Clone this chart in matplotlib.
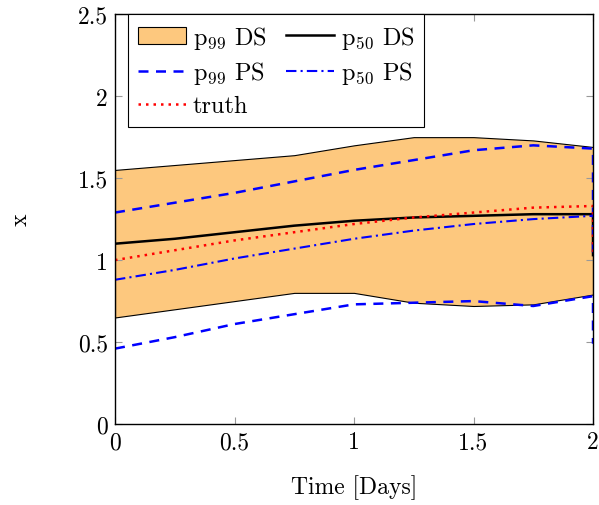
import numpy as np
import matplotlib
matplotlib.use('Agg')
import matplotlib.pyplot as plt

plt.rcParams['font.family'] = 'serif'
plt.rcParams['font.serif'] = ['cmr10']
plt.rcParams['mathtext.fontset'] = 'cm'
plt.rcParams['axes.formatter.use_mathtext'] = True

# data (last point repeated at t=2 where curves drop)
t = [0, 0.25, 0.5, 0.75, 1.0, 1.25, 1.5, 1.75, 2.0, 2.0]
p99_ds_hi = [1.55, 1.58, 1.61, 1.64, 1.70, 1.75, 1.75, 1.73, 1.69, 1.69]
p99_ds_lo = [0.65, 0.70, 0.75, 0.80, 0.80, 0.74, 0.72, 0.73, 0.79, 0.79]
p50_ds = [1.10, 1.13, 1.17, 1.21, 1.24, 1.26, 1.27, 1.28, 1.28, 1.03]
p99_ps_hi = [1.29, 1.35, 1.41, 1.48, 1.55, 1.61, 1.67, 1.70, 1.68, 1.03]
p99_ps_lo = [0.46, 0.53, 0.61, 0.67, 0.73, 0.74, 0.75, 0.72, 0.78, 0.49]
p50_ps = [0.88, 0.94, 1.01, 1.07, 1.13, 1.18, 1.22, 1.25, 1.27, 1.27]
truth = [1.00, 1.06, 1.12, 1.17, 1.22, 1.26, 1.29, 1.32, 1.33, 1.03]

fig = plt.figure(figsize=(5.99, 5.06), dpi=100)
ax = fig.add_axes([0.192, 0.160, 0.798, 0.810])

h1 = ax.fill_between(t, p99_ds_lo, p99_ds_hi, facecolor='#fdc87e',
                     edgecolor='black', linewidth=0.8, label=r'p$_{99}$ DS')
h2, = ax.plot(t, p50_ds, color='black', lw=1.8, label=r'p$_{50}$ DS')
h3, = ax.plot(t, p99_ps_hi, color='blue', lw=1.8, ls=(0, (4, 3)), label=r'p$_{99}$ PS')
ax.plot(t, p99_ps_lo, color='blue', lw=1.8, ls=(0, (4, 3)))
h4, = ax.plot(t, p50_ps, color='blue', lw=1.5, ls=(0, (5, 2, 1, 2)), label=r'p$_{50}$ PS')
h5, = ax.plot(t, truth, color='red', lw=1.8, ls=(0, (1, 2)), label='truth')

ax.set_xlim(0, 2)
ax.set_ylim(0, 2.5)
ax.set_xticks([0, 0.5, 1, 1.5, 2])
ax.set_xticklabels(['0', '0.5', '1', '1.5', '2'])
ax.set_yticks([0, 0.5, 1, 1.5, 2, 2.5])
ax.set_yticklabels(['0', '0.5', '1', '1.5', '2', '2.5'])
ax.tick_params(direction='in', top=True, right=True, length=5,
               color='#999999', labelsize=17, pad=5)
for s in ax.spines.values():
    s.set_linewidth(1.0)

ax.set_xlabel('Time [Days]', fontsize=17, labelpad=15)
ax.set_ylabel('x', fontsize=17, labelpad=33)

leg = ax.legend(handles=[h1, h3, h5, h2, h4], ncol=2, loc='upper left',
                fontsize=17.5, fancybox=False, framealpha=1, edgecolor='black',
                borderaxespad=0.0, bbox_to_anchor=(0.028, 1.0),
                handlelength=1.95, columnspacing=0.8, handletextpad=0.3,
                labelspacing=0.35, borderpad=0.4)
leg.get_frame().set_linewidth(0.8)

plt.savefig('out.png', dpi=100)
